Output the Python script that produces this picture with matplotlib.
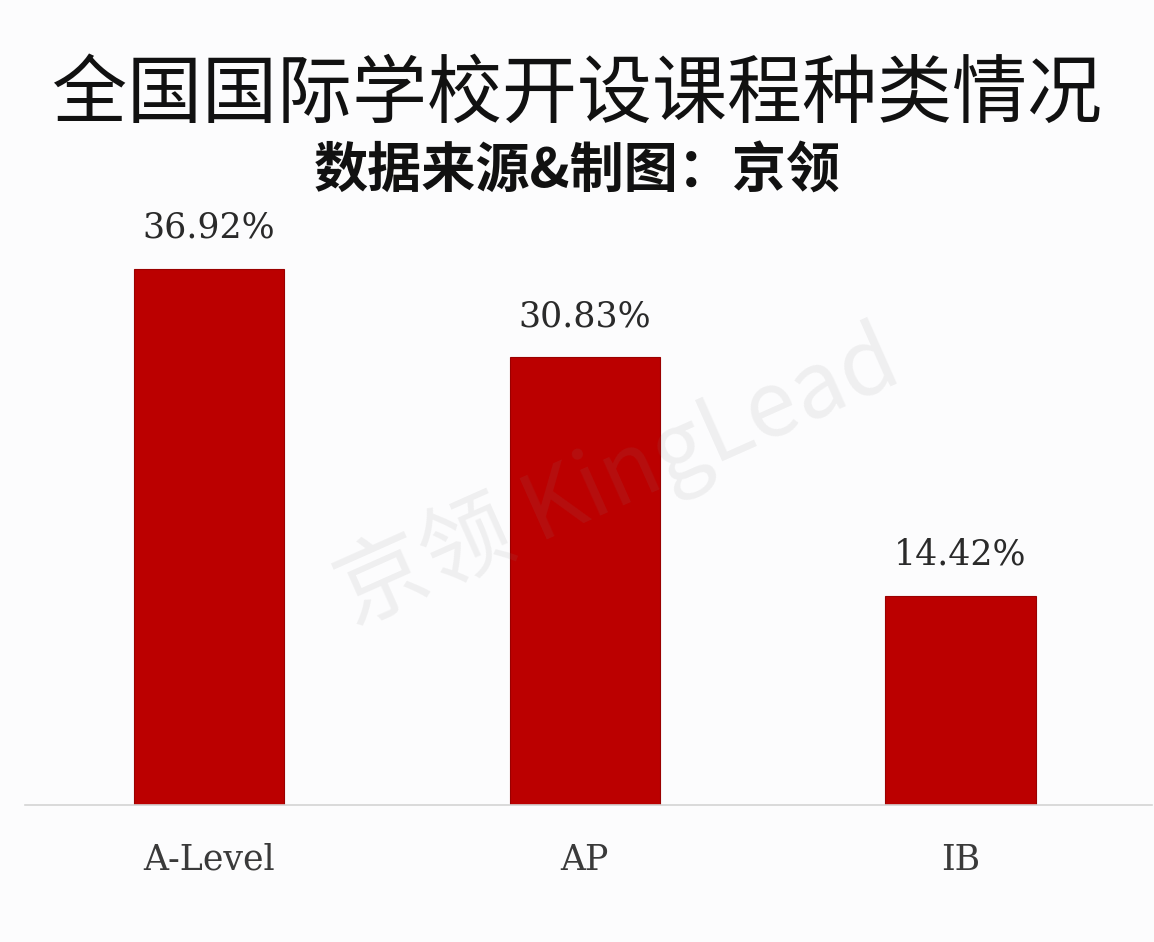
import matplotlib.pyplot as plt

plt.rcParams['font.family'] = ['Noto Sans CJK SC', 'DejaVu Sans']

# chart data
courses = ['A-Level', 'AP', 'IB']
shares = [36.92, 30.83, 14.42]
value_labels = ['36.92%', '30.83%', '14.42%']

title = '全国国际学校开设课程种类情况'
subtitle = '数据来源&制图：京领'
watermark = '京领 KingLead'

W, H = 1154, 942
fig = plt.figure(figsize=(W / 100, H / 100), dpi=100)
fig.patch.set_facecolor('#fcfcfd')

# axes placed in pixel terms: baseline at y=805, left edge 25, right edge 1152
ax = fig.add_axes([25 / W, (H - 805) / H, 1127 / W, 605 / H])
ax.set_facecolor('none')

x = list(range(len(courses)))
ax.bar(x, shares, width=0.4, color='#bb0000', edgecolor='#9a0000', linewidth=0.8, zorder=2)

for xi, v, lab in zip(x, shares, value_labels):
    ax.annotate(lab, (xi, v), xytext=(0, 29.5), textcoords='offset points',
                ha='center', va='center', fontsize=25, color='#2a2a2a',
                family='DejaVu Serif')

ax.set_xlim(-0.49, 2.51)
ax.set_ylim(0, 41.67)
ax.set_xticks(x)
ax.set_xticklabels(courses, fontsize=25, color='#3a3a3a', family='DejaVu Serif')
ax.tick_params(axis='x', length=0, pad=27)
ax.set_yticks([])
for side in ['top', 'right', 'left']:
    ax.spines[side].set_visible(False)
ax.spines['bottom'].set_color('#d4d4d4')
ax.spines['bottom'].set_linewidth(1.2)

fig.text(0.5, 1 - 95 / H, title, ha='center', va='center', fontsize=54,
         fontweight='medium', color='#111111')
fig.text(0.5, 1 - 172 / H, subtitle, ha='center', va='center', fontsize=39,
         fontweight='bold', color='#111111')

# faint rotated watermark
fig.text(618 / W, 1 - 478 / H, watermark, ha='center', va='center', fontsize=66,
         fontweight='light', rotation=24, color='#888888', alpha=0.11, zorder=5)

fig.savefig('out.png', dpi=100, facecolor=fig.get_facecolor())
